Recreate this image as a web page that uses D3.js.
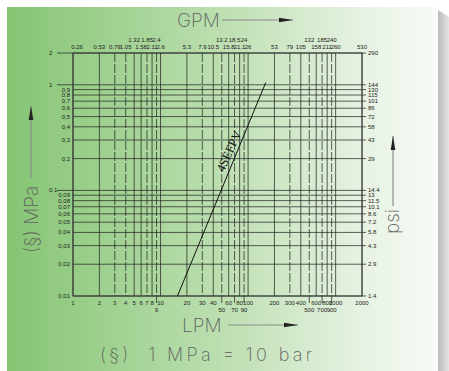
<!DOCTYPE html>
<html>
<head>
<meta charset="utf-8">
<script src="https://cdn.jsdelivr.net/npm/d3@7"></script>
<style>
  body { margin: 0; background: #fff; }
  svg { display: block; }
</style>
</head>
<body>
<div id="chart"></div>
<script>
// flow in LPM (bottom) with GPM equivalents on top
const lpmTicks = [1, 2, 3, 4, 5, 6, 7, 8, 9, 10, 20, 30, 40, 50, 60, 70, 80, 90, 100, 200, 300, 400, 500, 600, 700, 800, 900, 1000, 2000];
const lpmLowRow = [9, 50, 70, 90, 500, 700, 900];
const lpmDashed = [3, 4, 7, 9, 30, 50, 70, 90, 300, 500, 700, 900];
const gpmLabels = ["0.26", "0.53", "0.79", "1.05", "1.32", "1.58", "1.85", "2.11", "2.4", "2.6", "5.3", "7.9", "10.5", "13.2", "15.8", "18.5", "21.1", "24", "26", "53", "79", "105", "132", "158", "185", "211", "240", "260", "530"];
const gpmHighRow = ["1.32", "1.85", "2.4", "13.2", "18.5", "24", "132", "185", "240"];

// pressure drop in MPa (left) with psi equivalents on the right
const mpaTicks = [2, 1, 0.9, 0.8, 0.7, 0.6, 0.5, 0.4, 0.3, 0.2, 0.1, 0.09, 0.08, 0.07, 0.06, 0.05, 0.04, 0.03, 0.02, 0.01];
const mpaLabels = ["2", "1", "0,9", "0,8", "0,7", "0,6", "0,5", "0,4", "0,3", "0,2", "0,1", "0,09", "0,08", "0,07", "0,06", "0,05", "0,04", "0,03", "0,02", "0,01"];
const mpaMajor = [2, 1, 0.1];
const psiLabels = ["290", "144", "130", "115", "101", "86", "72", "58", "43", "29", "14.4", "13", "11.5", "10.1", "8.6", "7.2", "5.8", "4.3", "2.9", "1.4"];

// valve curve
const curveName = "4SEFPV";
const curveLpm = [15.6, 159];
const curveMpa = [0.01, 1.05];
const curveLabelMpa = 0.22;

const W = 449, H = 371;
const tickFont = "'Liberation Sans Narrow', 'Liberation Sans', sans-serif";
const titleFont = "Inter, 'DejaVu Sans', sans-serif";

const svg = d3.select("#chart").append("svg")
  .attr("width", W)
  .attr("height", H);

const defs = svg.append("defs");

const bg = defs.append("linearGradient").attr("id", "cardBg")
  .attr("x1", "0%").attr("x2", "100%").attr("y1", "0%").attr("y2", "0%");
bg.append("stop").attr("offset", "0%").attr("stop-color", "#85c473");
bg.append("stop").attr("offset", "50%").attr("stop-color", "#bddfb1");
bg.append("stop").attr("offset", "82%").attr("stop-color", "#e6f2e2");
bg.append("stop").attr("offset", "100%").attr("stop-color", "#f8fbf7");

const sh = defs.append("linearGradient").attr("id", "shadow")
  .attr("x1", "0%").attr("x2", "100%").attr("y1", "0%").attr("y2", "0%");
sh.append("stop").attr("offset", "0%").attr("stop-color", "#bcbcbc");
sh.append("stop").attr("offset", "100%").attr("stop-color", "#e4e4e4");

// card + shadow on the right
svg.append("path")
  .attr("d", "M438,10 L449,17 L449,371 L438,371 Z")
  .attr("fill", "url(#shadow)");
svg.append("rect")
  .attr("x", 7).attr("y", 7)
  .attr("width", 431).attr("height", 364)
  .attr("fill", "url(#cardBg)");

const x = d3.scaleLog().domain([1, 2000]).range([73, 362]);
const y = d3.scaleLog().domain([0.01, 2]).range([296, 53]);

const g = svg.append("g");

// vertical grid
g.selectAll("line.vgrid")
  .data(lpmTicks)
  .join("line")
  .attr("class", "vgrid")
  .attr("x1", d => x(d)).attr("x2", d => x(d))
  .attr("y1", y(2))
  .attr("y2", d => lpmLowRow.includes(d) ? y(0.01) + 7 : y(0.01))
  .attr("stroke", "#222")
  .attr("stroke-width", 0.85)
  .attr("stroke-opacity", 0.85)
  .attr("stroke-dasharray", d => lpmDashed.includes(d) ? "9,2" : null);

// horizontal grid
g.selectAll("line.hgrid")
  .data(mpaTicks)
  .join("line")
  .attr("class", "hgrid")
  .attr("x1", d => mpaMajor.includes(d) ? 57 : x(1))
  .attr("x2", x(2000) + 4)
  .attr("y1", d => y(d)).attr("y2", d => y(d))
  .attr("stroke", "#222")
  .attr("stroke-width", 0.85)
  .attr("stroke-opacity", 0.85);

// frame
g.append("rect")
  .attr("x", x(1)).attr("y", y(2))
  .attr("width", x(2000) - x(1))
  .attr("height", y(0.01) - y(2))
  .attr("fill", "none")
  .attr("stroke", "#333")
  .attr("stroke-width", 0.9);

// bottom LPM labels
g.selectAll("text.lpm")
  .data(lpmTicks)
  .join("text")
  .attr("class", "lpm")
  .attr("x", d => x(d))
  .attr("y", d => lpmLowRow.includes(d) ? 312 : 305)
  .attr("text-anchor", "middle")
  .attr("font-family", tickFont)
  .attr("font-size", 6)
  .attr("fill", "#222")
  .text(d => d);

// top GPM labels
g.selectAll("text.gpm")
  .data(lpmTicks)
  .join("text")
  .attr("class", "gpm")
  .attr("x", (d, i) => x(d) + (i === 0 ? 4 : 0))
  .attr("y", (d, i) => gpmHighRow.includes(gpmLabels[i]) ? 42 : 49)
  .attr("text-anchor", "middle")
  .attr("font-family", tickFont)
  .attr("font-size", 6)
  .attr("fill", "#222")
  .text((d, i) => gpmLabels[i]);

// left MPa labels
g.selectAll("text.mpa")
  .data(mpaTicks)
  .join("text")
  .attr("class", "mpa")
  .attr("x", d => mpaMajor.includes(d) ? 49 : 70)
  .attr("y", d => y(d) + 2)
  .attr("text-anchor", d => mpaMajor.includes(d) ? "start" : "end")
  .attr("font-family", tickFont)
  .attr("font-size", 6)
  .attr("fill", "#222")
  .text((d, i) => mpaLabels[i]);

// right psi labels
g.selectAll("text.psi")
  .data(mpaTicks)
  .join("text")
  .attr("class", "psi")
  .attr("x", x(2000) + 6)
  .attr("y", d => y(d) + 2)
  .attr("font-family", tickFont)
  .attr("font-size", 6)
  .attr("fill", "#222")
  .text((d, i) => psiLabels[i]);

// the valve curve
const curvePts = curveLpm.map((q, i) => [q, curveMpa[i]]);
g.append("path")
  .datum(curvePts)
  .attr("d", d3.line().x(d => x(d[0])).y(d => y(d[1])))
  .attr("fill", "none")
  .attr("stroke", "#111")
  .attr("stroke-width", 1);

// label along the curve, a few px to its upper-left side
const k = Math.log(curveLpm[1] / curveLpm[0]) / Math.log(curveMpa[1] / curveMpa[0]);
const labelLpm = curveLpm[0] * Math.pow(curveLabelMpa / curveMpa[0], k);
const ang = Math.atan2(y(curveMpa[1]) - y(curveMpa[0]), x(curveLpm[1]) - x(curveLpm[0]));
const off = 3.5;
const lx = x(labelLpm) + Math.sin(ang) * off;
const ly = y(curveLabelMpa) - Math.cos(ang) * off;
g.append("text")
  .attr("transform", `translate(${lx},${ly}) rotate(${ang * 180 / Math.PI + 2})`)
  .attr("text-anchor", "middle")
  .attr("font-family", "'Liberation Serif', serif")
  .attr("font-size", 12.5)
  .attr("fill", "#111")
  .text(curveName);

// axis titles with arrows
function arrow(x1, y1, x2, y2) {
  const a = Math.atan2(y2 - y1, x2 - x1);
  svg.append("line")
    .attr("x1", x1).attr("y1", y1).attr("x2", x2).attr("y2", y2)
    .attr("stroke", "#8a8a8a").attr("stroke-width", 1.2);
  svg.append("path")
    .attr("d", "M0,0 L-14,-2.3 L-14,2.3 Z")
    .attr("transform", `translate(${x2},${y2}) rotate(${a * 180 / Math.PI})`)
    .attr("fill", "#222");
}

function title(txt, tx, ty, rot) {
  svg.append("text")
    .attr("transform", `translate(${tx},${ty}) rotate(${rot})`)
    .attr("font-family", titleFont)
    .attr("font-weight", 200)
    .attr("font-size", 19)
    .attr("fill", "#5e5e5e")
    .text(txt);
}

title("GPM", 177, 27, 0);
arrow(222, 20, 293, 20);

title("LPM", 182, 332, 0);
arrow(228, 325, 298, 325);

title("(§) MPa", 38, 253, -90);
arrow(31, 178, 31, 106);

title("psi", 399, 234, -90);
arrow(393, 206, 393, 136);

svg.append("text")
  .attr("x", 100).attr("y", 361)
  .attr("font-family", titleFont)
  .attr("font-weight", 200)
  .attr("font-size", 18)
  .attr("fill", "#5e5e5e")
  .attr("textLength", 212)
  .attr("lengthAdjust", "spacing")
  .attr("xml:space", "preserve")
  .text("(§)  1 MPa = 10 bar");
</script>
</body>
</html>
